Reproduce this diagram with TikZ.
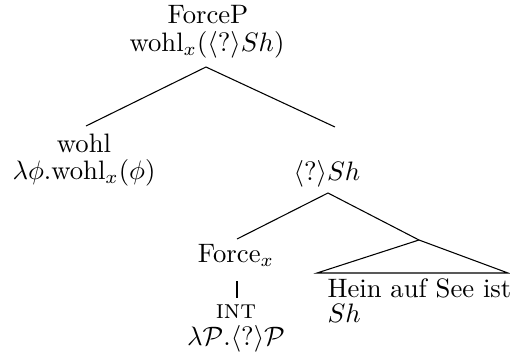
\documentclass[tikz,border=0pt]{standalone}
\begin{document}
\begin{tikzpicture}[x=0.375pt,y=-0.375pt,
  lbl/.style={inner sep=0pt,anchor=base},
  lblw/.style={inner sep=0pt,anchor=base west},
  edge/.style={draw,line width=0.4pt}]
\useasboundingbox (0,0) rectangle (510,358);
\node[lbl] (forcep) at (208,23) {ForceP};
\node[lbl] (forcepsem) at (207,51) {wohl$_x$($\langle ?\rangle Sh$)};
\node[lbl] (wohl) at (84,152) {wohl};
\node[lbl] (wohlsem) at (84,179) {$\lambda\phi.\mathrm{wohl}_x(\phi)$};
\node[lbl] (sh) at (327,180) {$\langle ?\rangle Sh$};
\node[lbl] (forcex) at (236,262) {Force$_x$};
\node[lbl] (int) at (236,318) {\textsc{int}};
\node[lbl] (intsem) at (236,345) {$\lambda\mathcal{P}.\langle ?\rangle\mathcal{P}$};
\node[lblw] (hein) at (327,297) {Hein auf See ist};
\node[lblw] (heinsem) at (327,322) {$Sh$};
\coordinate (c1) at (206,67);
\coordinate (c2) at (86,126);
\coordinate (c3) at (335,127);
\coordinate (c4) at (328,193);
\coordinate (c5) at (237,239);
\coordinate (c6) at (419,240);
\coordinate (c7) at (317,273);
\coordinate (c8) at (508,273);
\coordinate (c9) at (237,281);
\coordinate (c10) at (237,298);
\draw[edge] (c2) -- (c1) -- (c3);
\draw[edge] (c5) -- (c4) -- (c6);
\draw[edge] (c6) -- (c7) -- (c8) -- cycle;
\draw[edge] (c9) -- (c10);
\end{tikzpicture}
\end{document}
